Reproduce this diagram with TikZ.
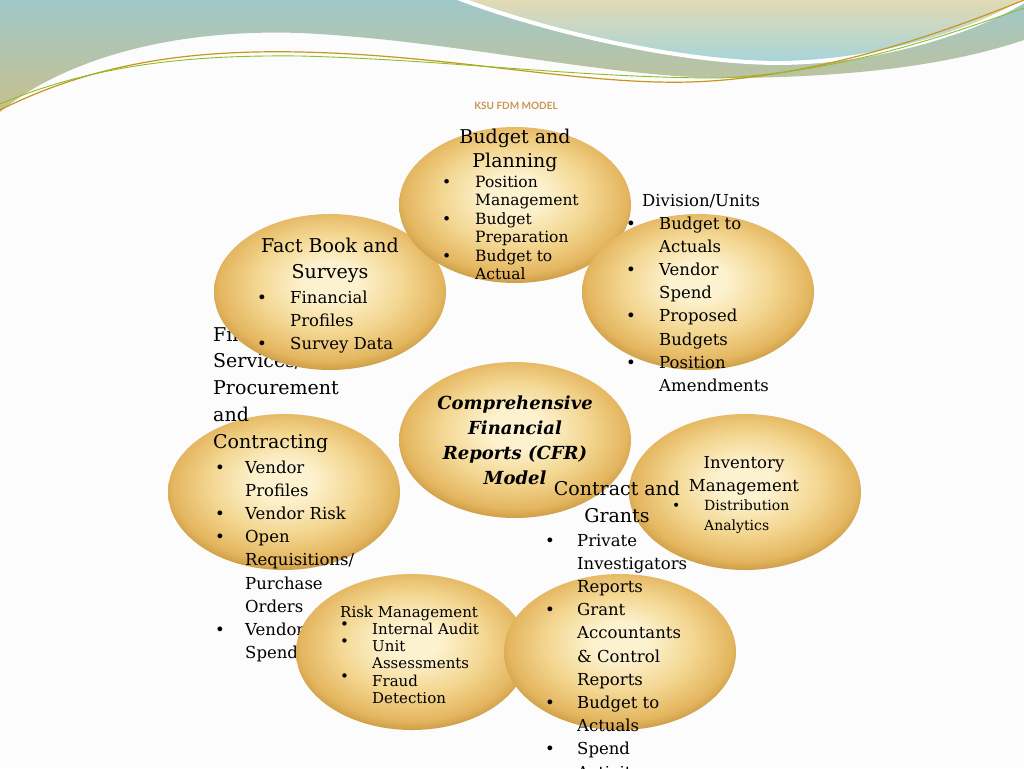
\documentclass[tikz,border=0pt]{standalone}
\usepackage{fontspec}
\setmainfont{DejaVu Serif}
\newfontfamily\latofont{Lato}
\usetikzlibrary{shapes.geometric}
\definecolor{cA}{HTML}{FDF2CF}
\definecolor{cB}{HTML}{F3D690}
\definecolor{cC}{HTML}{E4B660}
\definecolor{cD}{HTML}{B5852C}
\definecolor{cE}{HTML}{8A6218}
\pgfdeclareradialshading{ball}{\pgfpoint{0bp}{4bp}}{color(0bp)=(cA); color(6bp)=(cA); color(16bp)=(cB); color(24bp)=(cC); color(30bp)=(cD); color(37bp)=(cE); color(50bp)=(cE)}
\tikzset{
  oval/.style={ellipse, minimum width=232pt, minimum height=156pt, shading=ball, inner sep=0pt},
  blk/.style={anchor=base west, inner sep=0pt},
  ctr/.style={anchor=base, inner sep=0pt},
}
\newcommand{\fs}[2]{\fontsize{#1}{#2}\selectfont}
\begin{document}
\begin{tikzpicture}[x=1pt,y=-1pt]
\useasboundingbox (0,0) rectangle (1024,768);
\fill[white!98!gray] (0,0) rectangle (1024,768);
% waves
\shade[top color={rgb,255:red,160;green,200;blue,202}, bottom color={rgb,255:red,200;green,192;blue,140}]
 (0,0) -- (1024,0) -- (1024,40) .. controls (950,65) and (850,78) .. (720,78) .. controls (600,76) and (450,40) .. (300,33) .. controls (150,28) and (50,70) .. (0,112) -- cycle;
\shade[top color={rgb,255:red,228;green,218;blue,178}, bottom color={rgb,255:red,166;green,212;blue,218}, draw=white, line width=4pt]
 (455,-3) .. controls (540,30) and (680,63) .. (780,63) .. controls (880,62) and (980,30) .. (1030,-3) -- cycle;
\draw[color={rgb,255:red,200;green,150;blue,30}, line width=1.2pt]
 (0,110) .. controls (100,60) and (200,50) .. (300,52) .. controls (450,55) and (580,85) .. (690,82) .. controls (820,78) and (950,30) .. (1024,0);
\draw[color={rgb,255:red,140;green,190;blue,40}, line width=0.9pt]
 (0,104) .. controls (100,62) and (200,55) .. (300,56) .. controls (450,60) and (580,78) .. (720,78) .. controls (850,72) and (960,30) .. (1024,8);
\node[ctr, font=\latofont\bfseries\fs{10}{12}, text={rgb,255:red,200;green,150;blue,80}] (title) at (516,109) {KSU FDM MODEL};
% Left: Financial services
\node[oval] (e5) at (284,492) {};
\node[blk, font=\fs{19}{26.8}] (t5a) at (213,341) {\begin{tabular}[t]{@{}l@{}}Financial\\Services/\\Procurement\\and\\Contracting\end{tabular}};
\node[blk, font=\fs{16.5}{23.2}] (t5b) at (215,473) {\begin{tabular}[t]{@{}p{30pt}@{}l@{}}\textbullet&Vendor\\&Profiles\\\textbullet&Vendor Risk\\\textbullet&Open\\&Requisitions/\\&Purchase\\&Orders\\\textbullet&Vendor\\&Spend\end{tabular}};
% Fact book
\node[oval] (e4) at (330,292) {};
\node[ctr, font=\fs{19}{26}] (t4a) at (330,252) {\begin{tabular}[t]{@{}c@{}}Fact Book and\\Surveys\end{tabular}};
\node[blk, font=\fs{16.5}{23}] (t4b) at (257,303) {\begin{tabular}[t]{@{}p{33pt}@{}l@{}}\textbullet&Financial\\&Profiles\\\textbullet&Survey Data\end{tabular}};
% Budget
\node[oval] (e1) at (515,205) {};
\node[ctr, font=\fs{19}{24.5}] (t1a) at (515,143) {\begin{tabular}[t]{@{}c@{}}Budget and\\Planning\end{tabular}};
\node[blk, font=\fs{15.5}{18.5}] (t1b) at (442,187) {\begin{tabular}[t]{@{}p{33pt}@{}l@{}}\textbullet&Position\\&Management\\\textbullet&Budget\\&Preparation\\\textbullet&Budget to\\&Actual\end{tabular}};
% Division
\node[oval] (e2) at (698,292) {};
\node[blk, font=\fs{16.5}{23.2}] (t2a) at (642,206) {Division/Units};
\node[blk, font=\fs{16.5}{23.2}] (t2b) at (626,229) {\begin{tabular}[t]{@{}p{33pt}@{}l@{}}\textbullet&Budget to\\&Actuals\\\textbullet&Vendor\\&Spend\\\textbullet&Proposed\\&Budgets\\\textbullet&Position\\&Amendments\end{tabular}};
% CFR
\node[oval] (e3) at (515,440) {};
\node[ctr, font=\bfseries\itshape\fs{18}{25}] (t3) at (515,409) {\begin{tabular}[t]{@{}c@{}}Comprehensive\\Financial\\Reports (CFR)\\Model\end{tabular}};
% Inventory
\node[oval] (e6) at (745,492) {};
\node[ctr, font=\fs{16.5}{23}] (t6a) at (744,468) {\begin{tabular}[t]{@{}c@{}}Inventory\\Management\end{tabular}};
\node[blk, font=\fs{14}{20}] (t6b) at (672,510) {\begin{tabular}[t]{@{}p{32pt}@{}l@{}}\textbullet&Distribution\\&Analytics\end{tabular}};
% Risk
\node[oval] (e7) at (412,652) {};
\node[blk, font=\fs{15}{17}] (t7a) at (340,617) {Risk Management};
\node[blk, font=\fs{15}{17}] (t7b) at (340,634) {\begin{tabular}[t]{@{}p{32pt}@{}l@{}}\raisebox{5pt}{\textbullet}&Internal Audit\\\raisebox{5pt}{\textbullet}&Unit\\&Assessments\\\raisebox{5pt}{\textbullet}&Fraud\\&Detection\end{tabular}};
% Contract
\node[oval] (e8) at (620,652) {};
\node[ctr, font=\fs{19}{27}] (t8a) at (617,495) {\begin{tabular}[t]{@{}c@{}}Contract and\\Grants\end{tabular}};
\node[blk, font=\fs{16.5}{23.2}] (t8b) at (545,546) {\begin{tabular}[t]{@{}p{32pt}@{}l@{}}\textbullet&Private\\&Investigators\\&Reports\\\textbullet&Grant\\&Accountants\\&\& Control\\&Reports\\\textbullet&Budget to\\&Actuals\\\textbullet&Spend\\&Activity\end{tabular}};
\end{tikzpicture}
\end{document}
